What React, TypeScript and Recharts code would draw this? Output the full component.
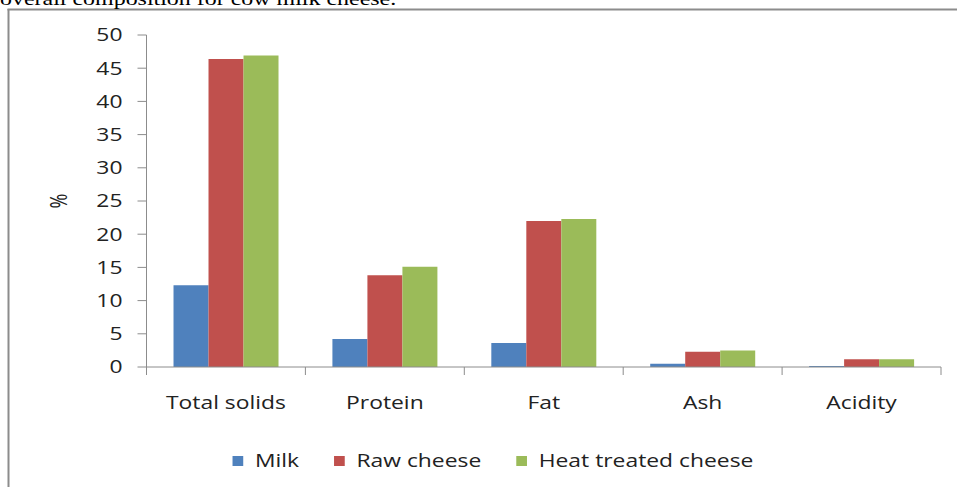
import React from 'react';
import { BarChart, Bar, XAxis, YAxis } from 'recharts';

// ---- data ----
const categories = ['Total solids', 'Protein', 'Fat', 'Ash', 'Acidity'];
const milk = [12.3, 4.2, 3.6, 0.5, 0.15];
const rawCheese = [46.4, 13.8, 22.0, 2.3, 1.15];
const heatTreatedCheese = [46.9, 15.1, 22.3, 2.5, 1.15];
const yTicks = [0, 5, 10, 15, 20, 25, 30, 35, 40, 45, 50];
const series = [
  { key: 'milk', name: 'Milk', color: '#4F81BD' },
  { key: 'raw', name: 'Raw cheese', color: '#C0504D' },
  { key: 'heat', name: 'Heat treated cheese', color: '#9BBB59' },
];
const yLabel = '%';
const caption = 'overall composition for cow milk cheese.';

const data = categories.map((c, i) => ({
  category: c,
  milk: milk[i],
  raw: rawCheese[i],
  heat: heatTreatedCheese[i],
}));

// ---- styles ----
const W = 957;
const H = 487;
const FONT = "'Open Sans', sans-serif";
const FS = 18;
const SX = 1.27;
const TEXT = '#222';
const AXIS = '#8c8c8c';
const X_MARGIN = 29;

let ctx: CanvasRenderingContext2D | null = null;
function measure(text: string, font: string): number {
  if (!ctx) ctx = document.createElement('canvas').getContext('2d');
  if (!ctx) return text.length * 9;
  ctx.font = font;
  return ctx.measureText(text).width;
}

const YTick = (props: any) => {
  const { x, y, payload } = props;
  return (
    <text
      transform={`translate(${x},${y}) scale(${SX},1)`}
      textAnchor="end"
      dy="0.36em"
      fontFamily={FONT}
      fontSize={FS}
      fill={TEXT}
    >
      {payload.value}
    </text>
  );
};

const XTick = (props: any) => {
  const { x, y, payload, index, width, visibleTicksCount } = props;
  const half =
    payload && payload.offset > 0 ? payload.offset : width / visibleTicksCount / 2;
  const axisY = y - X_MARGIN;
  return (
    <g>
      <line x1={x - half} x2={x - half} y1={axisY} y2={axisY + 8} stroke={AXIS} />
      {index === visibleTicksCount - 1 && (
        <line x1={x + half} x2={x + half} y1={axisY} y2={axisY + 8} stroke={AXIS} />
      )}
      <text
        transform={`translate(${x},${y}) scale(${SX},1)`}
        textAnchor="middle"
        dy="0.72em"
        fontFamily={FONT}
        fontSize={FS}
        fill={TEXT}
      >
        {payload.value}
      </text>
    </g>
  );
};

const YLabel = (props: any) => {
  const vb = props.viewBox || { x: 66, y: 35, width: 80, height: 332 };
  const cx = vb.x - 7.5;
  const cy = vb.y + vb.height / 2;
  return (
    <text
      transform={`translate(${cx},${cy}) scale(${SX},1) rotate(-90)`}
      textAnchor="middle"
      dy="0.36em"
      fontFamily={FONT}
      fontSize={FS}
      fill={TEXT}
    >
      {yLabel}
    </text>
  );
};

const LegendRow = () => {
  const font = `${FS}px ${FONT}`;
  const sq = 10.7;
  const gapText = 11.7;
  const gapItem = 35;
  const widths = series.map((s) => measure(s.name, font) * SX);
  const total =
    widths.reduce((a, w) => a + sq + gapText + w, 0) + gapItem * (series.length - 1);
  let cur = 493 - total / 2;
  const items = series.map((s, i) => {
    const x0 = cur;
    cur += sq + gapText + widths[i] + gapItem;
    return (
      <g key={s.key}>
        <rect x={x0} y={456} width={sq} height={10} fill={s.color} />
        <text
          transform={`translate(${x0 + sq + gapText},466.7) scale(${SX},1)`}
          fontFamily={FONT}
          fontSize={FS}
          fill={TEXT}
        >
          {s.name}
        </text>
      </g>
    );
  });
  return <g>{items}</g>;
};

export default function App() {
  return (
    <div
      style={{
        position: 'absolute',
        left: 0,
        top: 0,
        width: W,
        height: H,
        overflow: 'hidden',
        background: '#fff',
      }}
    >
      <div style={{ position: 'absolute', left: 0, top: 0 }}>
        <BarChart
          width={W}
          height={H}
          data={data}
          margin={{ top: 35, right: 16, bottom: 60, left: 66.5 }}
          barCategoryGap="17%"
          barGap={0}
        >
          <YAxis
            width={80}
            domain={[0, 50]}
            ticks={yTicks}
            interval={0}
            axisLine={{ stroke: AXIS }}
            tickLine={{ stroke: AXIS }}
            tickSize={9}
            tickMargin={15}
            tick={<YTick />}
            label={{ content: <YLabel /> } as any}
          />
          <XAxis
            dataKey="category"
            height={60}
            interval={0}
            axisLine={{ stroke: AXIS }}
            tickLine={false}
            tickSize={0}
            tickMargin={X_MARGIN}
            tick={<XTick />}
          />
          {series.map((s) => (
            <Bar
              key={s.key}
              dataKey={s.key}
              name={s.name}
              fill={s.color}
              isAnimationActive={false}
            />
          ))}
        </BarChart>
      </div>
      <svg
        width={W}
        height={H}
        style={{ position: 'absolute', left: 0, top: 0, pointerEvents: 'none' }}
      >
        <line x1={8.5} x2={8.5} y1={9} y2={H + 5} stroke={AXIS} strokeWidth={2} />
        <line x1={7.5} x2={W + 5} y1={9.5} y2={9.5} stroke={AXIS} strokeWidth={2} />
        <text
          transform={`translate(0,5) scale(1.26,1)`}
          fontFamily="'Liberation Serif', serif"
          fontSize={19}
          fill="#000"
        >
          {caption}
        </text>
        <LegendRow />
      </svg>
    </div>
  );
}
